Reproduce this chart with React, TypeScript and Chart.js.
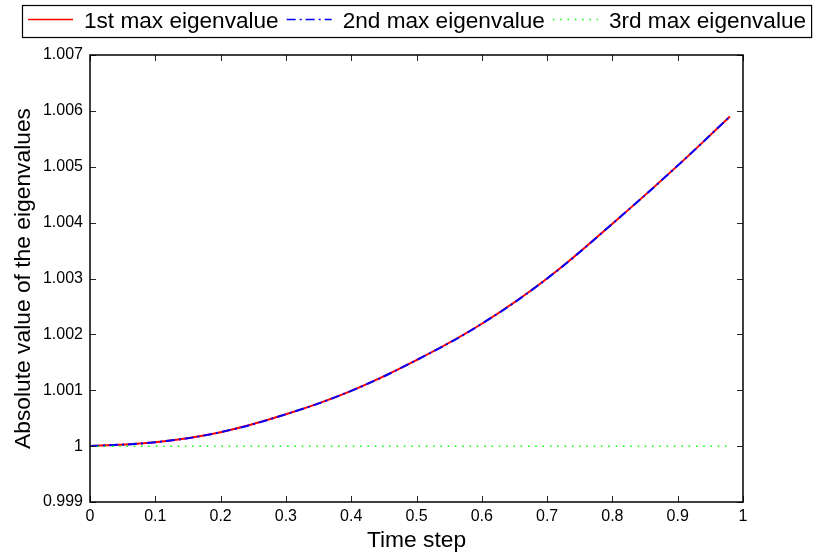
import React, { useEffect, useRef } from 'react';
import { Chart, registerables } from 'chart.js';

Chart.register(...registerables);

// ---- data ----
const timeSteps = [0, 0.1, 0.2, 0.3, 0.4, 0.5, 0.6, 0.7, 0.8, 0.9, 0.98];
const firstMaxEig = [1, 1.00007, 1.00025, 1.00057, 1.00099, 1.00154, 1.00219, 1.003, 1.00398, 1.00502, 1.0059];
const secondMaxEig = [1, 1.00007, 1.00025, 1.00057, 1.00099, 1.00154, 1.00219, 1.003, 1.00398, 1.00502, 1.0059];
const thirdMaxEig = [1, 1, 1, 1, 1, 1, 1, 1, 1, 1, 1];

const xTickValues = [0, 0.1, 0.2, 0.3, 0.4, 0.5, 0.6, 0.7, 0.8, 0.9, 1];
const yTickValues = [0.999, 1, 1.001, 1.002, 1.003, 1.004, 1.005, 1.006, 1.007];

const legendLabels = ['1st max eigenvalue', '2nd max eigenvalue', '3rd max eigenvalue'];
const xTitle = 'Time step';
const yTitle = 'Absolute value of the eigenvalues';

const FONT = '"Liberation Sans", Arial, Helvetica, sans-serif';
const seriesColors = ['#ff0000', '#0000ff', '#00ff00'];
const seriesDashes: number[][] = [[], [9, 4, 2, 4], [1.5, 5.8]];
const seriesWidths = [2, 2, 1.5];

const fmt = (v: number) => String(parseFloat(Number(v).toFixed(3)));

const boxPlugin = {
  id: 'matlabBox',
  afterDatasetsDraw(chart: any) {
    const { ctx, chartArea, scales } = chart;
    const { left, right, top, bottom } = chartArea;
    ctx.save();
    ctx.strokeStyle = '#222';
    ctx.lineWidth = 1;
    const tl = 6;
    ctx.beginPath();
    xTickValues.forEach((v) => {
      const px = Math.round(scales.x.getPixelForValue(v)) + 0.5;
      ctx.moveTo(px, bottom);
      ctx.lineTo(px, bottom - tl);
      ctx.moveTo(px, top);
      ctx.lineTo(px, top + tl);
    });
    yTickValues.forEach((v) => {
      const py = Math.round(scales.y.getPixelForValue(v)) + 0.5;
      ctx.moveTo(left, py);
      ctx.lineTo(left + tl, py);
      ctx.moveTo(right, py);
      ctx.lineTo(right - tl, py);
    });
    ctx.stroke();
    ctx.strokeStyle = '#000';
    ctx.lineWidth = 1.5;
    ctx.strokeRect(left, top, right - left, bottom - top);
    ctx.restore();
  },
};

const legendPlugin = {
  id: 'matlabLegend',
  afterDraw(chart: any) {
    const ctx = chart.ctx;
    ctx.save();
    ctx.font = `22.6px ${FONT}`;
    ctx.textBaseline = 'middle';
    ctx.textAlign = 'left';
    const boxLeft = 22;
    const boxTop = 5.5;
    const boxH = 32;
    const sampleLen = 45;
    const gapAfterSample = 11;
    const gapAfterText = 8;
    const lineY = 19.5;
    const textY = 21.5;
    let x = boxLeft + 6;
    legendLabels.forEach((label, i) => {
      ctx.strokeStyle = seriesColors[i];
      ctx.lineWidth = i === 2 ? 1.5 : 1.3;
      ctx.setLineDash(seriesDashes[i]);
      ctx.beginPath();
      ctx.moveTo(x, lineY);
      ctx.lineTo(x + sampleLen, lineY);
      ctx.stroke();
      ctx.setLineDash([]);
      x += sampleLen + gapAfterSample;
      ctx.fillStyle = '#000';
      ctx.fillText(label, x, textY);
      x += ctx.measureText(label).width;
      if (i < legendLabels.length - 1) x += gapAfterText;
    });
    const boxRight = x + 5;
    ctx.strokeStyle = '#000';
    ctx.lineWidth = 1.2;
    ctx.strokeRect(boxLeft + 0.5, boxTop, boxRight - boxLeft, boxH);
    ctx.restore();
  },
};

export default function App() {
  const canvasRef = useRef<HTMLCanvasElement | null>(null);

  useEffect(() => {
    if (!canvasRef.current) return;
    const mk = (vals: number[]) => timeSteps.map((t, i) => ({ x: t, y: vals[i] }));
    const seriesValues = [firstMaxEig, secondMaxEig, thirdMaxEig];
    const chart = new Chart(canvasRef.current, {
      type: 'line',
      data: {
        datasets: seriesValues.map((vals, i) => ({
          label: legendLabels[i],
          data: mk(vals),
          borderColor: seriesColors[i],
          backgroundColor: seriesColors[i],
          borderWidth: seriesWidths[i],
          borderDash: seriesDashes[i],
          pointRadius: 0,
          fill: false,
          tension: 0.4,
          order: 2 - i,
        })),
      },
      options: {
        animation: false,
        responsive: false,
        devicePixelRatio: 1,
        layout: { padding: { top: 55, right: 74, left: 0, bottom: 0 } },
        plugins: {
          legend: { display: false },
          tooltip: { enabled: false },
        },
        scales: {
          x: {
            type: 'linear',
            min: 0,
            max: 1,
            grid: { display: false, drawTicks: false },
            border: { display: false },
            afterBuildTicks: (scale: any) => {
              scale.ticks = xTickValues.map((v) => ({ value: v }));
            },
            afterFit: (scale: any) => {
              scale.height = 52;
            },
            ticks: {
              padding: 5,
              color: '#000',
              font: { family: FONT, size: 16 },
              maxRotation: 0,
              autoSkip: false,
              callback: (v: any) => fmt(v),
            },
            title: {
              display: true,
              text: xTitle,
              color: '#000',
              font: { family: FONT, size: 22.8 },
              padding: { top: 0, bottom: 0 },
            },
          },
          y: {
            type: 'linear',
            min: 0.999,
            max: 1.007,
            grid: { display: false, drawTicks: false },
            border: { display: false },
            afterBuildTicks: (scale: any) => {
              scale.ticks = yTickValues.map((v) => ({ value: v }));
            },
            afterFit: (scale: any) => {
              scale.width = 90;
            },
            ticks: {
              padding: 7,
              color: '#000',
              font: { family: FONT, size: 16 },
              autoSkip: false,
              callback: (v: any) => fmt(v),
            },
            title: {
              display: true,
              text: yTitle,
              color: '#000',
              font: { family: FONT, size: 22.8 },
              padding: { top: 10, bottom: 0 },
            },
          },
        },
      },
      plugins: [boxPlugin, legendPlugin],
    });
    return () => chart.destroy();
  }, []);

  return (
    <div style={{ position: 'absolute', left: 0, top: 0, width: 817, height: 554, background: '#fff' }}>
      <canvas ref={canvasRef} width={817} height={554} style={{ display: 'block' }} />
    </div>
  );
}
